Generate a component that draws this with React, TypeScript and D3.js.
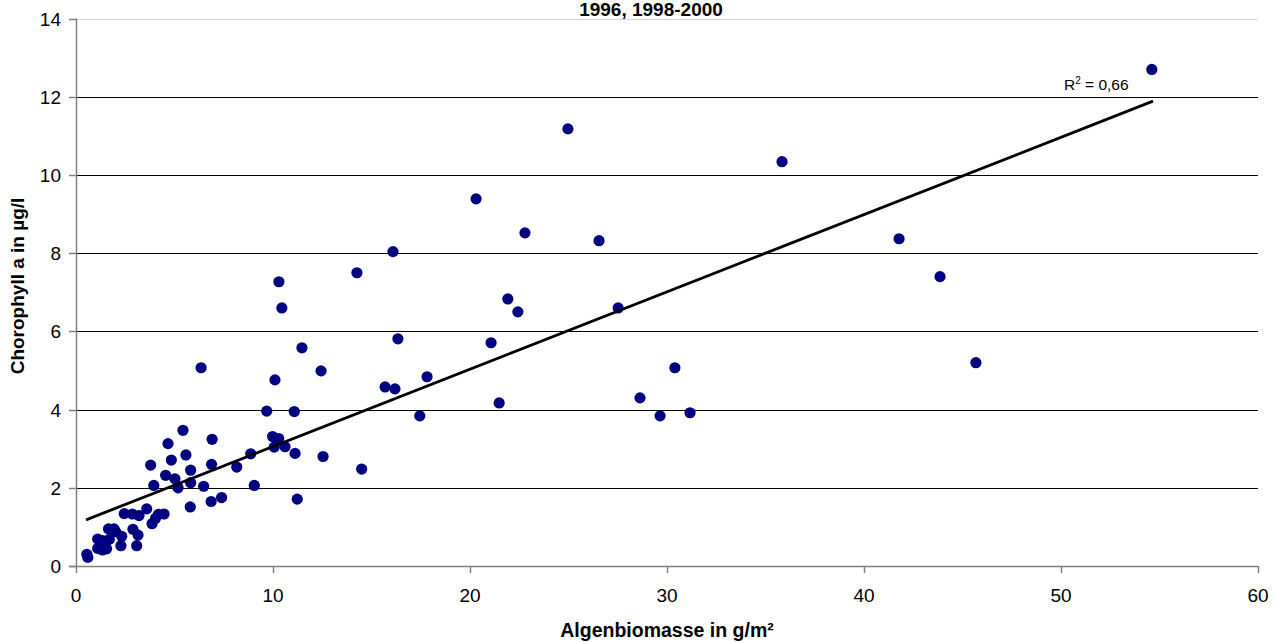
import React from "react";
import * as d3 from "d3";

const biomass: number[] = [
  54.61, 24.97, 35.84, 20.31, 22.79, 26.55, 41.78, 43.86, 14.26, 16.09,
  10.3, 10.45, 21.92, 22.43, 27.52, 16.34, 11.47, 21.07, 6.35, 12.44,
  30.4, 45.68, 10.1, 17.82, 15.69, 16.19, 28.63, 21.48, 9.68, 11.08,
  17.45, 29.65, 31.17, 9.98, 10.29, 10.06, 10.61, 8.87, 11.12, 8.16,
  12.54, 9.05, 14.5, 11.23, 5.43, 6.91, 4.67, 3.79, 4.84, 5.58,
  6.88, 5.82, 4.55, 5.02, 3.95, 5.18, 5.82, 6.48, 7.39, 6.86,
  5.8, 3.59, 2.86, 2.45, 3.2, 4.18, 4.47, 3.86, 4.04, 1.65,
  1.93, 2.01, 2.32, 2.89, 3.15, 1.1, 1.34, 1.69, 2.28, 3.08,
  1.1, 1.55, 1.34, 0.55, 0.6,
];

const chlorophyll: number[] = [
  12.7, 11.18, 10.34, 9.39, 8.52, 8.32, 8.37, 7.4, 7.5, 8.04,
  7.27, 6.6, 6.83, 6.5, 6.6, 5.81, 5.58, 5.71, 5.07, 4.99,
  5.07, 5.2, 4.76, 4.84, 4.58, 4.53, 4.3, 4.17, 3.96, 3.95,
  3.84, 3.84, 3.92, 3.31, 3.26, 3.04, 3.05, 2.87, 2.88, 2.53,
  2.8, 2.06, 2.48, 1.71, 3.47, 3.24, 3.13, 2.58, 2.71, 2.84,
  2.6, 2.45, 2.32, 2.23, 2.06, 2.0, 2.13, 2.04, 1.75, 1.65,
  1.51, 1.46, 1.33, 1.34, 1.29, 1.32, 1.33, 1.08, 1.22, 0.95,
  0.95, 0.88, 0.76, 0.94, 0.79, 0.69, 0.65, 0.68, 0.52, 0.52,
  0.45, 0.44, 0.41, 0.3, 0.22,
];

const xTicks: number[] = [0, 10, 20, 30, 40, 50, 60];
const yTicks: number[] = [0, 2, 4, 6, 8, 10, 12, 14];
const trendIntercept = 1.08;
const trendSlope = 0.1977;
const trendRange: number[] = [0.51, 54.67];
const rSquaredLabel = "0,66";
const titleText = "1996, 1998-2000";
const xTitle = "Algenbiomasse in g/m²";
const yTitle = "Chorophyll a in µg/l";

export default function App() {
  const W = 1278;
  const H = 642;
  const left = 76;
  const right = 1258;
  const top = 18.6;
  const bottom = 566;

  const x = d3.scaleLinear().domain([0, 60]).range([left, right]);
  const y = d3.scaleLinear().domain([0, 14]).range([bottom, top]);

  const trendLine = d3
    .line<number>()
    .x((d) => x(d))
    .y((d) => y(trendIntercept + trendSlope * d));

  const font = "Arial, 'Liberation Sans', Helvetica, sans-serif";

  return (
    <svg
      width={W}
      height={H}
      style={{ position: "absolute", left: 0, top: 0, background: "#fff" }}
      fontFamily={font}
    >
      <rect x={0} y={0} width={W} height={H} fill="#fff" />
      {/* gridlines */}
      {yTicks
        .filter((t) => t > 0)
        .map((t) => (
          <line
            key={"g" + t}
            x1={left}
            x2={right}
            y1={Math.round(y(t)) + 0.5}
            y2={Math.round(y(t)) + 0.5}
            stroke={t === 14 ? "#d8d8d8" : "#000"}
            strokeWidth={1}
          />
        ))}
      {/* y axis */}
      <line x1={left + 0.5} x2={left + 0.5} y1={top} y2={bottom} stroke="#808080" strokeWidth={1.5} />
      {yTicks.map((t) => (
        <g key={"yt" + t}>
          <line
            x1={left - 7}
            x2={left}
            y1={Math.round(y(t)) + 0.5}
            y2={Math.round(y(t)) + 0.5}
            stroke="#808080"
            strokeWidth={1.5}
          />
          <text x={61} y={y(t) + 7} textAnchor="end" fontSize={19} fill="#000">
            {t}
          </text>
        </g>
      ))}
      {/* x axis */}
      <line x1={left - 7} x2={right} y1={bottom + 0.5} y2={bottom + 0.5} stroke="#808080" strokeWidth={1.5} />
      {xTicks.map((t) => (
        <g key={"xt" + t}>
          <line
            x1={Math.round(x(t)) + 0.5}
            x2={Math.round(x(t)) + 0.5}
            y1={bottom}
            y2={bottom + 7}
            stroke="#808080"
            strokeWidth={1.5}
          />
          <text x={x(t)} y={602} textAnchor="middle" fontSize={19} fill="#000">
            {t}
          </text>
        </g>
      ))}
      {/* points */}
      {biomass.map((b, i) => (
        <circle key={"p" + i} cx={x(b)} cy={y(chlorophyll[i])} r={5.6} fill="#000080" />
      ))}
      {/* trend line */}
      <path d={trendLine(trendRange) || ""} fill="none" stroke="#000" strokeWidth={2.8} />
      {/* R² label */}
      <text x={1064} y={90} fontSize={15.5} fill="#000">
        R<tspan fontSize={10} dy={-6}>2</tspan>
        <tspan dy={6}>{" = " + rSquaredLabel}</tspan>
      </text>
      {/* title */}
      <text x={651} y={16} textAnchor="middle" fontSize={19} fontWeight="bold" fill="#000">
        {titleText}
      </text>
      {/* axis titles */}
      <text x={667} y={637} textAnchor="middle" fontSize={19.5} fontWeight="bold" fill="#000">
        {xTitle}
      </text>
      <text
        transform={`translate(24,286) rotate(-90)`}
        textAnchor="middle"
        fontSize={19}
        fontWeight="bold"
        fill="#000"
      >
        {yTitle}
      </text>
    </svg>
  );
}
